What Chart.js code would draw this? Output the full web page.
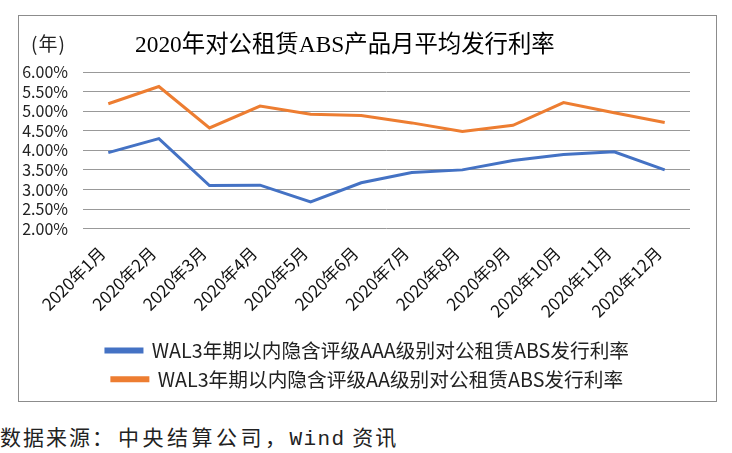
<!DOCTYPE html>
<html>
<head>
<meta charset="utf-8">
<script src="https://cdn.jsdelivr.net/npm/chart.js@4.4.1/dist/chart.umd.min.js"></script>
<style>
    body { margin: 0; background: #fff; width: 732px; height: 453px; position: relative; overflow: hidden; }
    #box { position: absolute; left: 18px; top: 15px; width: 699px; height: 387px; border: 1px solid #8c8c8c; box-sizing: border-box; }
    #box canvas { position: absolute; left: 0; top: 0; }
    .title { position: absolute; left: 116px; top: 9px; font: 23.4px "Liberation Serif", "Noto Sans CJK SC", serif; color: #000; white-space: nowrap; }
    .unit { position: absolute; left: 12px; top: 13px; font: 19px "Noto Sans CJK SC", sans-serif; letter-spacing: 1px; color: #222; }
    .source { position: absolute; left: 0; top: 421px; font: 21px "Noto Sans CJK SC", sans-serif; color: #222; white-space: nowrap; }
    .source span { letter-spacing: 2px; }
    .source .org { letter-spacing: 3.5px; margin-left: 3px; }
    .source .mono { font-family: "Liberation Mono", monospace; letter-spacing: 1.4px; }
</style>
</head>
<body>
<div id="box">
    <canvas id="rateChart" width="697" height="385"></canvas>
    <div class="unit">(年)</div>
    <div class="title">2020年对公租赁ABS产品月平均发行利率</div>
</div>
<div class="source"><span>数据来源：</span><span class="org">中央结算公司，</span><span class="mono">Wind</span><span> 资讯</span></div>

<script>
const months = ['2020年1月', '2020年2月', '2020年3月', '2020年4月', '2020年5月', '2020年6月',
    '2020年7月', '2020年8月', '2020年9月', '2020年10月', '2020年11月', '2020年12月'];
const aaaRates = [3.94, 4.30, 3.10, 3.11, 2.68, 3.17, 3.43, 3.50, 3.74, 3.89, 3.96, 3.50];
const aaRates = [5.19, 5.63, 4.57, 5.13, 4.92, 4.89, 4.70, 4.48, 4.64, 5.22, 4.96, 4.71];
const seriesNames = ['WAL3年期以内隐含评级AAA级别对公租赁ABS发行利率', 'WAL3年期以内隐含评级AA级别对公租赁ABS发行利率'];
const yMin = 2, yMax = 6, yStep = 0.5;

const narrowFont = '"Liberation Sans Narrow", "Noto Sans CJK SC", sans-serif';

const ctx = document.getElementById('rateChart').getContext('2d');
const rateChart = new Chart(ctx, {
    type: 'line',
    data: {
        labels: months,
        datasets: [{
            label: seriesNames[0],
            data: aaaRates,
            borderColor: '#4472C4',
            backgroundColor: '#4472C4',
            borderWidth: 3,
            pointRadius: 0,
            tension: 0
        }, {
            label: seriesNames[1],
            data: aaRates,
            borderColor: '#ED7D31',
            backgroundColor: '#ED7D31',
            borderWidth: 3,
            pointRadius: 0,
            tension: 0
        }]
    },
    options: {
        responsive: false,
        animation: false,
        layout: { padding: { top: 56, right: 0, bottom: 2, left: 0 } },
        plugins: {
            title: { display: false },
            tooltip: { enabled: false },
            legend: {
                position: 'bottom',
                labels: {
                    boxWidth: 36,
                    boxHeight: 3,
                    padding: 9,
                    color: '#222',
                    font: { family: narrowFont, size: 19.7 }
                }
            }
        },
        scales: {
            x: {
                offset: true,
                grid: { display: false },
                border: { display: false },
                ticks: {
                    minRotation: 45,
                    maxRotation: 45,
                    autoSkip: false,
                    padding: 6,
                    labelOffset: -6,
                    color: '#111',
                    font: { family: narrowFont, size: 17 }
                },
                afterFit: function(scale) { scale.height = 103; }
            },
            y: {
                min: yMin,
                max: yMax,
                grid: { color: '#999999', lineWidth: 1, drawTicks: false },
                border: { display: false },
                ticks: {
                    stepSize: yStep,
                    autoSkip: false,
                    padding: 15,
                    color: '#222',
                    font: { family: narrowFont, size: 16 },
                    callback: function(value) { return value.toFixed(2) + '%'; }
                },
                afterFit: function(scale) { scale.width = 64; }
            },
            // empty right-hand spacer so the plot ends short of the box while the legend stays centred
            spacer: {
                type: 'linear',
                position: 'right',
                grid: { display: false },
                border: { display: false },
                ticks: { display: false },
                afterFit: function(scale) { scale.width = 26; }
            }
        }
    }
});
</script>
</body>
</html>
